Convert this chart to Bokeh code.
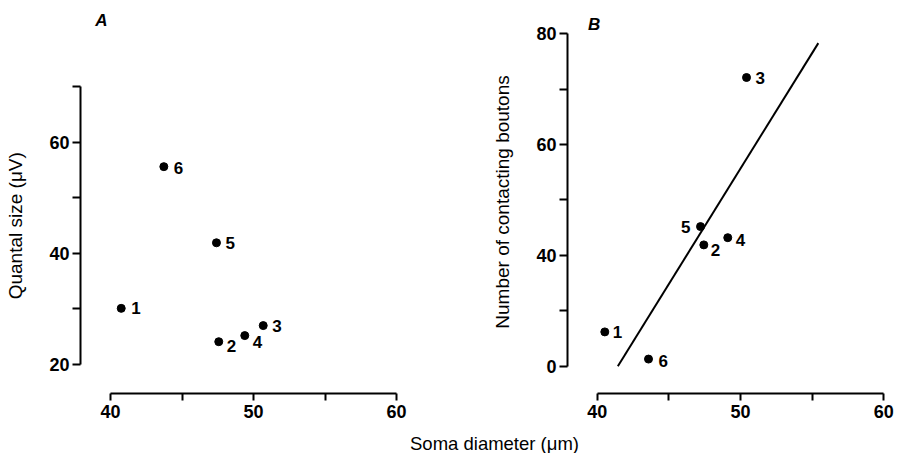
from bokeh.plotting import figure
from bokeh.models import FixedTicker, Label, ColumnDataSource
from bokeh.layouts import row, column
from bokeh.embed import file_html
from bokeh.resources import INLINE
from bokeh.core.properties import value

# ---------------- data ----------------
cell_ids = ["1", "2", "3", "4", "5", "6"]
soma_A = [40.75, 47.57, 50.68, 49.39, 47.41, 43.73]
quantal_size = [30.1, 24.1, 27.0, 25.2, 41.9, 55.6]
soma_B = [40.53, 47.44, 50.42, 49.11, 47.21, 43.58]
boutons = [26.2, 41.9, 72.1, 43.2, 45.2, 21.3]
fit_x = [41.44, 55.43]
fit_y = [20.0, 78.3]

x_ticks = [40, 50, 60]
x_minor = [45, 55]
yA_ticks = [20, 40, 60]
yA_minor = [30, 50, 70]
yB_ticks = [20, 40, 60, 80]
yB_tick_labels = ["0", "40", "60", "80"]
yB_minor = [30, 50, 70]

# ---------------- styles ----------------
FONT = "Liberation Sans"
# label offsets (screen px, right / down)
offA = [(10, 0), (8, 4), (9, 0), (8, 6), (9, 0), (10, 1.5)]
offB = [(8, 0), (7, 5), (9, 0), (8, 2), (-10, 0), (10, 2)]
alignB = ["left", "left", "left", "left", "right", "left"]
PAD = "\u00a0" * 9   # shifts the rotated label toward the bounded axis centre


def style_axes(p, xb, yb):
    for ax in (p.xaxis[0], p.yaxis[0]):
        ax.axis_line_width = 2
        ax.major_tick_line_width = 2
        ax.minor_tick_line_width = 2
        ax.major_tick_in = 0
        ax.minor_tick_in = 0
        ax.major_label_text_font = FONT
        ax.major_label_text_font_style = "bold"
        ax.major_label_text_font_size = "18px"
        ax.major_label_text_color = "black"
        ax.axis_line_color = "black"
        ax.major_tick_line_color = "black"
        ax.minor_tick_line_color = "black"
        ax.axis_label_text_font = FONT
        ax.axis_label_text_font_style = "normal"
        ax.axis_label_text_font_size = "19px"
        ax.axis_label_text_color = "black"
    p.xaxis[0].major_tick_out = 7
    p.xaxis[0].minor_tick_out = 7
    p.xaxis[0].major_label_standoff = 4
    p.yaxis[0].major_tick_out = 8
    p.yaxis[0].minor_tick_out = 8
    p.yaxis[0].major_label_standoff = 3
    p.yaxis[0].axis_label_standoff = 20
    p.xaxis[0].bounds = xb
    p.yaxis[0].bounds = yb
    p.xgrid.visible = False
    p.ygrid.visible = False
    p.outline_line_color = None


def point_labels(p, xs, ys, offs, aligns):
    for al in sorted(set(aligns)):
        idx = [i for i, a in enumerate(aligns) if a == al]
        s = ColumnDataSource(dict(
            x=[xs[i] for i in idx], y=[ys[i] for i in idx],
            t=[cell_ids[i] for i in idx],
            dx=[offs[i][0] for i in idx], dy=[offs[i][1] for i in idx],
        ))
        p.text(x="x", y="y", text="t", x_offset="dx", y_offset="dy", source=s,
               text_font=value(FONT), text_font_style="bold",
               text_font_size="17px", text_align=al, text_baseline="middle",
               text_color="black")


# ---------------- panel A ----------------
pA = figure(width=448, height=422, output_backend="svg", toolbar_location=None,
            title=None, x_range=(37.902, 61.678), y_range=(14.782, 83.698),
            min_border_left=80, min_border_right=28, min_border_top=10,
            min_border_bottom=29)
pA.xaxis[0].ticker = FixedTicker(ticks=x_ticks, minor_ticks=x_minor)
pA.yaxis[0].ticker = FixedTicker(ticks=yA_ticks, minor_ticks=yA_minor)
pA.yaxis[0].axis_label = "Quantal size (\u03bcV)" + PAD
style_axes(pA, (40, 60), (20, 70))
pA.scatter(soma_A, quantal_size, size=8, color="black")
point_labels(pA, soma_A, quantal_size, offA, ["left"] * 6)
pA.add_layout(Label(x=39.37, y=81.9, text="A", text_font=FONT,
                    text_font_style="bold italic", text_font_size="17px",
                    text_color="black", text_align="center",
                    text_baseline="middle"))

# ---------------- panel B ----------------
pB = figure(width=449, height=422, output_backend="svg", toolbar_location=None,
            title=None, x_range=(37.927, 60.258), y_range=(15.087, 84.189),
            min_border_left=119, min_border_right=10, min_border_top=10,
            min_border_bottom=28)
pB.xaxis[0].ticker = FixedTicker(ticks=x_ticks, minor_ticks=x_minor)
pB.yaxis[0].ticker = FixedTicker(ticks=yB_ticks, minor_ticks=yB_minor)
pB.yaxis[0].major_label_overrides = {t: l for t, l in zip(yB_ticks, yB_tick_labels)}
pB.yaxis[0].axis_label = "Number of contacting boutons"
style_axes(pB, (40, 60), (20, 80))
pB.line(fit_x, fit_y, line_width=2, color="black")
pB.scatter(soma_B, boutons, size=8, color="black")
point_labels(pB, soma_B, boutons, offB, alignB)
pB.add_layout(Label(x=39.78, y=81.67, text="B", text_font=FONT,
                    text_font_style="bold italic", text_font_size="17px",
                    text_color="black", text_align="center",
                    text_baseline="middle"))

# ---------------- shared x label ----------------
pC = figure(width=897, height=31, output_backend="svg", toolbar_location=None,
            title=None, x_range=(0, 897), y_range=(0, 31),
            x_axis_type=None, y_axis_type=None, min_border=0)
pC.xgrid.visible = False
pC.ygrid.visible = False
pC.outline_line_color = None
pC.add_layout(Label(x=494, y=10, text="Soma diameter (\u03bcm)", text_font=FONT,
                    text_font_size="18.5px", text_color="black",
                    text_align="center", text_baseline="middle"))

layout = column(row(pA, pB), pC)
open("out.html", "w").write(file_html(layout, INLINE))
